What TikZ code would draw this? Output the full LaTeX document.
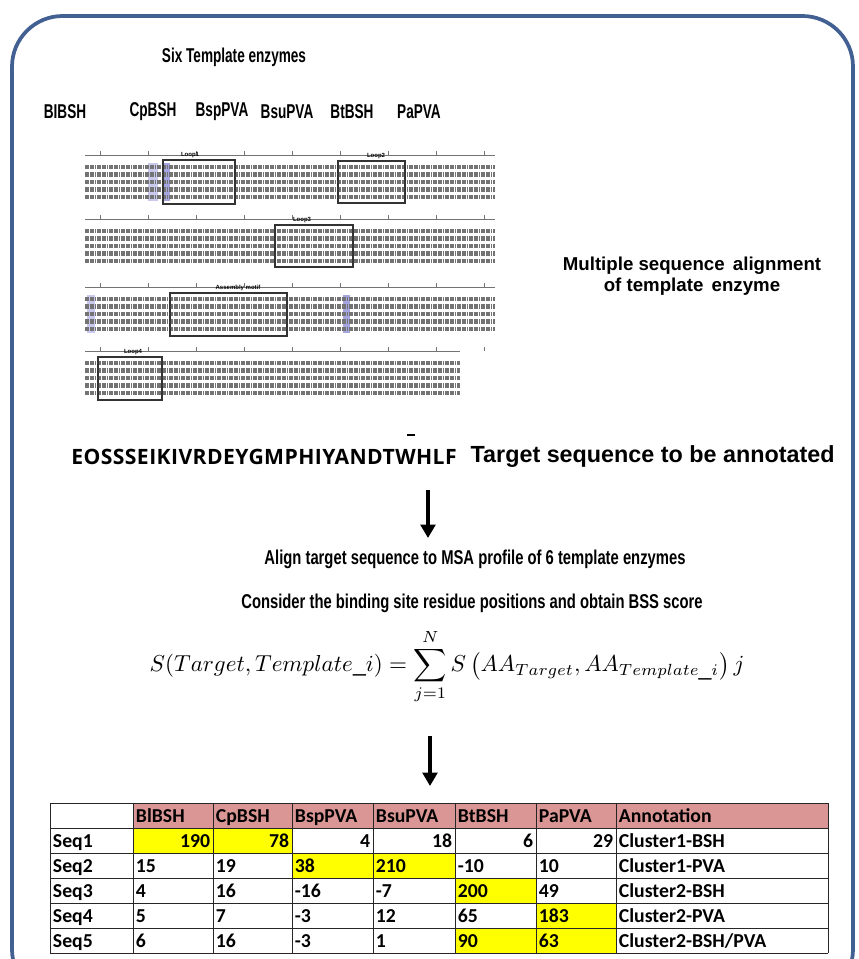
\documentclass[tikz,border=0pt]{standalone}
\usepackage{fontspec}
\setmainfont{Liberation Sans}
\newfontfamily\narrowfont[FakeStretch=0.74]{Liberation Sans}
\newfontfamily\titlefont[FakeStretch=0.68]{Liberation Sans}
\newfontfamily\tabfont{Carlito}
\newfontfamily\seqfont[LetterSpace=2]{Open Sans}
\usepackage{graphicx}
\usetikzlibrary{arrows.meta,positioning,calc}
\definecolor{FrameBlue}{RGB}{66,96,146}
\definecolor{HeadPink}{RGB}{218,150,148}
\definecolor{MarkYellow}{RGB}{255,255,0}
\definecolor{SiteBlue}{RGB}{165,165,225}
\definecolor{ResidueGray}{RGB}{115,115,115}
\tikzset{
  frame/.style={draw=FrameBlue, line width=2.8pt, rounded corners=38pt},
  heading/.style={font=\titlefont\bfseries\fontsize{15}{17}\selectfont},
  steptext/.style={font=\narrowfont\bfseries\fontsize{15}{17}\selectfont},
  sidetext/.style={font=\bfseries\fontsize{14}{16}\selectfont, align=center},
  residues/.style={ResidueGray, line width=3.4pt, dash pattern=on 1.3pt off 0.5pt},
  ruler/.style={ResidueGray, line width=0.4pt},
  loopbox/.style={draw=black!80, line width=1.1pt},
  looplabel/.style={font=\bfseries\fontsize{4.5}{5}\selectfont, inner sep=0.5pt},
  flow/.style={-{Triangle[width=11pt,length=10pt]}, line width=2.4pt},
  grid/.style={draw=black!85, line width=0.6pt},
  cell/.style={font=\tabfont\bfseries\fontsize{14.8}{16}\selectfont, inner sep=2pt}
}

\begin{document}
\begin{tikzpicture}[x=0.75pt,y=-0.75pt]
\useasboundingbox (0,0) rectangle (859,959);
\begin{scope}
  \clip (0,0) rectangle (859,959);
  \draw[frame] (12,16) rectangle (853,1000);
\end{scope}

% templates
\node[heading] (title) at (234,57) {Six Template enzymes};
\foreach \name/\xx [count=\i] in {BIBSH/65,CpBSH/153,BspPVA/222,BsuPVA/287,BtBSH/352,PaPVA/419}
  \node[heading] (enz\i) at (\xx,112) {\name};

% alignment picture
\fill[SiteBlue!60] (148,163) rectangle (158,201);
\fill[SiteBlue] (163,163) rectangle (170,201);
\fill[SiteBlue!60] (87,295) rectangle (95,333);
\fill[SiteBlue] (343,295) rectangle (350,333);
\foreach \top/\xr in {167/495,231/495,299/495,363/460}{
  \draw[ruler] (85,{\top-12}) -- (\xr,{\top-12});
  \foreach \t in {0,...,8}
    \draw[ruler] ({100+48*\t},{\top-16}) -- ({100+48*\t},{\top-12});
  \foreach \k in {0,...,4}
    \draw[residues] (85,{\top+7.5*\k}) -- (\xr,{\top+7.5*\k});
}
\draw[loopbox] (163,160) rectangle (235,204);
\draw[loopbox] (338,161) rectangle (405,203);
\draw[loopbox] (275,225) rectangle (353,267);
\draw[loopbox] (170,293) rectangle (287,336);
\draw[loopbox] (98,357) rectangle (162,400);
\node[looplabel] (loop1) at (190,155) {Loop1};
\node[looplabel] (loop2) at (376,156) {Loop2};
\node[looplabel] (loop3) at (302,220) {Loop3};
\node[looplabel] (motif) at (238,288) {Assembly motif};
\node[looplabel] (loop4) at (133,352) {Loop4};

\node[sidetext] (msa) at (692,276) {Multiple sequence\,\ alignment\\of template\,\ enzyme};

% target
\node[inner sep=0pt] (target) at (264,457)
  {\resizebox{289pt}{!}{\seqfont\bfseries EOSSSEIKIVRDEYGMPHIYANDTWHLF}};
\draw[line width=0.8pt] (407,435) -- (415,435);
\node[font=\bfseries\fontsize{17.5}{19}\selectfont, anchor=west] (tlabel) at (466,457) {Target sequence to be annotated};

\coordinate (a1top) at (428,490);
\coordinate (a1bot) at (428,538);
\draw[flow] (a1top) -- (a1bot);

\node[steptext] (align) at (475,559) {Align target sequence to MSA profile of 6 template enzymes};
\node[steptext] (consider) at (472,603) {Consider the binding site residue positions and obtain BSS score};

\node[inner sep=0pt] (bss) at (447,667)
  {\resizebox{446pt}{!}{$\displaystyle S(Target,Template\_i)=\sum_{j=1}^{N} S\left(AA_{Target},AA_{Template\_i}\right)j$}};

\coordinate (a2top) at (430,736);
\coordinate (a2bot) at (430,786);
\draw[flow] (a2top) -- (a2bot);

% score table
\fill[HeadPink] (133,803) rectangle (828,828);
\foreach \a/\b/\r in {133/213/1,213/292/1,292/373/2,373/455/2,455/536/3,536/616/4,455/536/5,536/616/5}
  \fill[MarkYellow] (\a,{803+25*\r}) rectangle (\b,{828+25*\r});
\foreach \yy in {803,828,853,878,903,928,953}
  \draw[grid] (50,\yy) -- (828,\yy);
\foreach \xx in {50,133,213,292,373,455,536,616,828}
  \draw[grid] (\xx,803) -- (\xx,953);
\foreach \name/\xx [count=\c] in {BlBSH/133,CpBSH/213,BspPVA/292,BsuPVA/373,BtBSH/455,PaPVA/536,Annotation/616}
  \node[cell, anchor=base west] (h\c) at (\xx,822) {\name};
\foreach \r in {1,...,5}
  \node[cell, anchor=base west] (s\r) at (50,{822+25*\r}) {Seq\r};
\foreach \v/\xx [count=\c] in {190/213,78/292,4/373,18/455,6/536,29/616}
  \node[cell, anchor=base east] (v1\c) at (\xx,847) {\v};
\foreach \r/\ann in {1/Cluster1-BSH,2/Cluster1-PVA,3/Cluster2-BSH,4/Cluster2-PVA,5/Cluster2-BSH\slash PVA}
  \node[cell, anchor=base west] (ann\r) at (616,{822+25*\r}) {\ann};
\foreach \r/\a/\b/\cc/\d/\e/\f in {2/15/19/38/210/-10/10,3/4/16/-16/-7/200/49,4/5/7/-3/12/65/183,5/6/16/-3/1/90/63}{
  \foreach \v/\xx [count=\c] in {\a/133,\b/213,\cc/292,\d/373,\e/455,\f/536}
    \node[cell, anchor=base west] (v\r\c) at (\xx,{822+25*\r}) {\v};
}
\end{tikzpicture}
\end{document}
